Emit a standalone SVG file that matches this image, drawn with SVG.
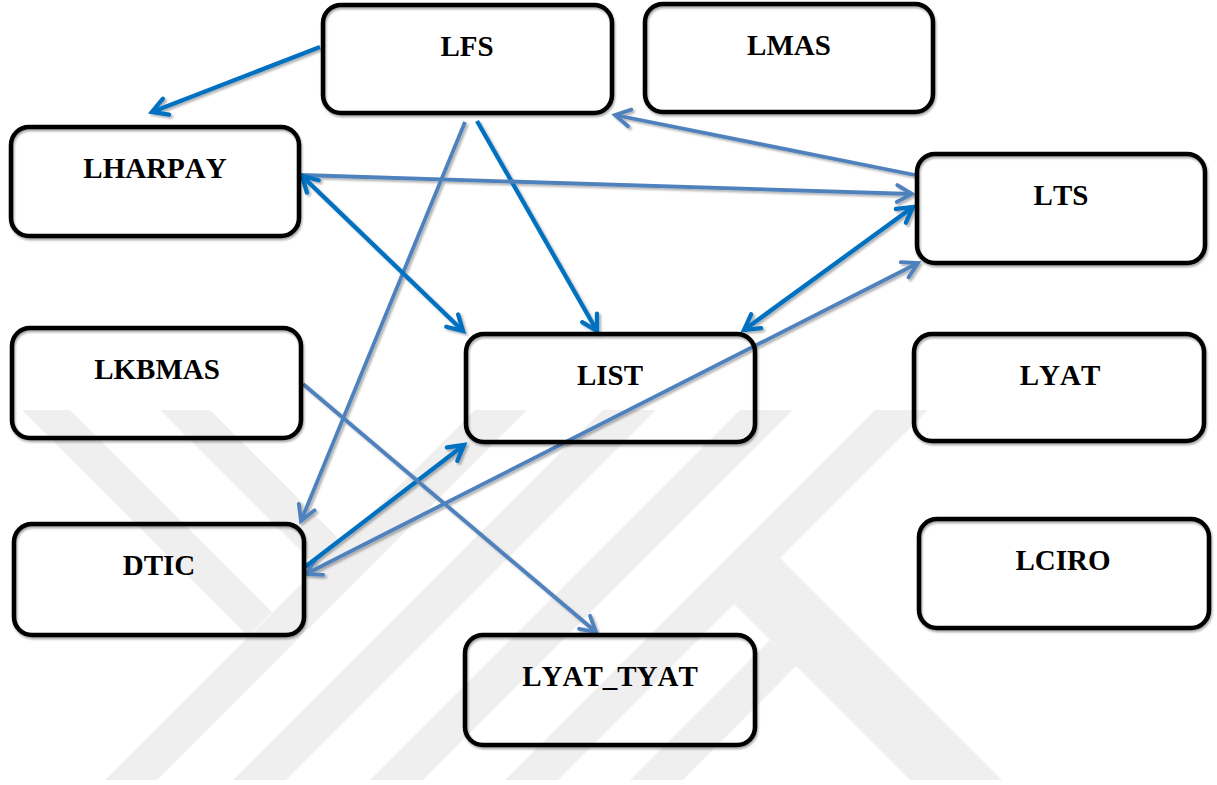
<svg xmlns="http://www.w3.org/2000/svg" width="1217" height="785" viewBox="0 0 1217 785">
  <style>
    .box { fill: none; stroke: #000; stroke-width: 4.5; }
    .lbl { font-family: "Liberation Serif", "Times New Roman", serif; font-weight: bold; font-size: 29px; font-kerning: none; fill: #000; text-anchor: middle; }
    .wm { fill: #efefef; stroke: none; }
    .c1 { fill: none; stroke: #0070C0; stroke-width: 4.3; }
    .c2 { fill: none; stroke: #4F81BD; stroke-width: 3.8; }
  </style>
  <defs>
    <filter id="shb" x="-5%" y="-5%" width="110%" height="115%">
      <feDropShadow dx="1" dy="2" stdDeviation="1.2" flood-color="#000" flood-opacity="0.35"/>
    </filter>
    <filter id="shl" x="-5%" y="-5%" width="110%" height="110%">
      <feDropShadow dx="2" dy="2" stdDeviation="1" flood-color="#000" flood-opacity="0.3"/>
    </filter>
    <marker id="ab" viewBox="0 0 20 20" refX="17" refY="10" markerWidth="20" markerHeight="20" markerUnits="userSpaceOnUse" orient="auto-start-reverse" overflow="visible">
      <path d="M2,1.5 L17,10 L2,18.5" fill="none" stroke="#0070C0" stroke-width="4.3" stroke-linecap="round"/>
    </marker>
    <marker id="as" viewBox="0 0 20 20" refX="17" refY="10" markerWidth="20" markerHeight="20" markerUnits="userSpaceOnUse" orient="auto-start-reverse" overflow="visible">
      <path d="M2,1.5 L17,10 L2,18.5" fill="none" stroke="#4F81BD" stroke-width="3.8" stroke-linecap="round"/>
    </marker>
  </defs>
  <rect x="0" y="0" width="1217" height="785" fill="#fff"/>
  <g id="watermark">
    <polygon class="wm" points="105,780 157,780 527,410 475,410"/>
    <polygon class="wm" points="233,780 286,780 656,410 603,410"/>
    <polygon class="wm" points="370,780 423,780 793,410 740,410"/>
    <polygon class="wm" points="505,780 558,780 928,410 875,410"/>
    <polygon class="wm" points="630,780 683,780 796,666 770,640"/>
    <polygon class="wm" points="780,558 1002,780 910,780 734,604"/>
    <polygon class="wm" points="22,410 70,410 272,612 248,636"/>
    <polygon class="wm" points="160,410 210,410 342,542 317,567"/>
  </g>
  <g id="connectors" filter="url(#shl)">
    <path class="c1" d="M320,47 L152,112" marker-end="url(#ab)"/>
    <path class="c2" d="M465,122 L301,521" marker-end="url(#as)"/>
    <path class="c1" d="M477,121 L597,331" marker-end="url(#ab)"/>
    <path class="c2" d="M915,175 L615,115" marker-end="url(#as)"/>
    <path class="c2" d="M301,175 L912,194" marker-end="url(#as)"/>
    <path class="c1" d="M302,176 L463,331" marker-start="url(#ab)" marker-end="url(#ab)"/>
    <path class="c1" d="M913,207 L744,330" marker-start="url(#ab)" marker-end="url(#ab)"/>
    <path class="c2" d="M306,574 L918,263" marker-start="url(#as)" marker-end="url(#as)"/>
    <path class="c1" d="M305,567 L464,445" marker-end="url(#ab)"/>
    <path class="c2" d="M303,384 L596,632" marker-end="url(#as)"/>
  </g>
  <g id="LFS"><rect class="box" filter="url(#shb)" x="323" y="5" width="289" height="108" rx="18"/><text class="lbl" x="467" y="56">LFS</text></g>
  <g id="LMAS"><rect class="box" filter="url(#shb)" x="645" y="4" width="288" height="108" rx="18"/><text class="lbl" x="789" y="55">LMAS</text></g>
  <g id="LHARPAY"><rect class="box" filter="url(#shb)" x="11" y="127" width="288" height="109" rx="18"/><text class="lbl" x="155" y="178">LHARPAY</text></g>
  <g id="LTS"><rect class="box" filter="url(#shb)" x="917" y="154" width="288" height="109" rx="18"/><text class="lbl" x="1061" y="205">LTS</text></g>
  <g id="LKBMAS"><rect class="box" filter="url(#shb)" x="12" y="328" width="289" height="110" rx="18"/><text class="lbl" x="157" y="379">LKBMAS</text></g>
  <g id="LIST"><rect class="box" filter="url(#shb)" x="466" y="334" width="289" height="108" rx="18"/><text class="lbl" x="610" y="385">LIST</text></g>
  <g id="LYAT"><rect class="box" filter="url(#shb)" x="914" y="334" width="290" height="107" rx="18"/><text class="lbl" x="1060" y="385">LYAT</text></g>
  <g id="DTIC"><rect class="box" filter="url(#shb)" x="14" y="524" width="290" height="111" rx="18"/><text class="lbl" x="159" y="575">DTIC</text></g>
  <g id="LCIRO"><rect class="box" filter="url(#shb)" x="919" y="519" width="290" height="109" rx="18"/><text class="lbl" x="1063" y="570">LCIRO</text></g>
  <g id="LYAT_TYAT"><rect class="box" filter="url(#shb)" x="465" y="635" width="290" height="110" rx="18"/><text class="lbl" x="610" y="686">LYAT_TYAT</text></g>
</svg>
